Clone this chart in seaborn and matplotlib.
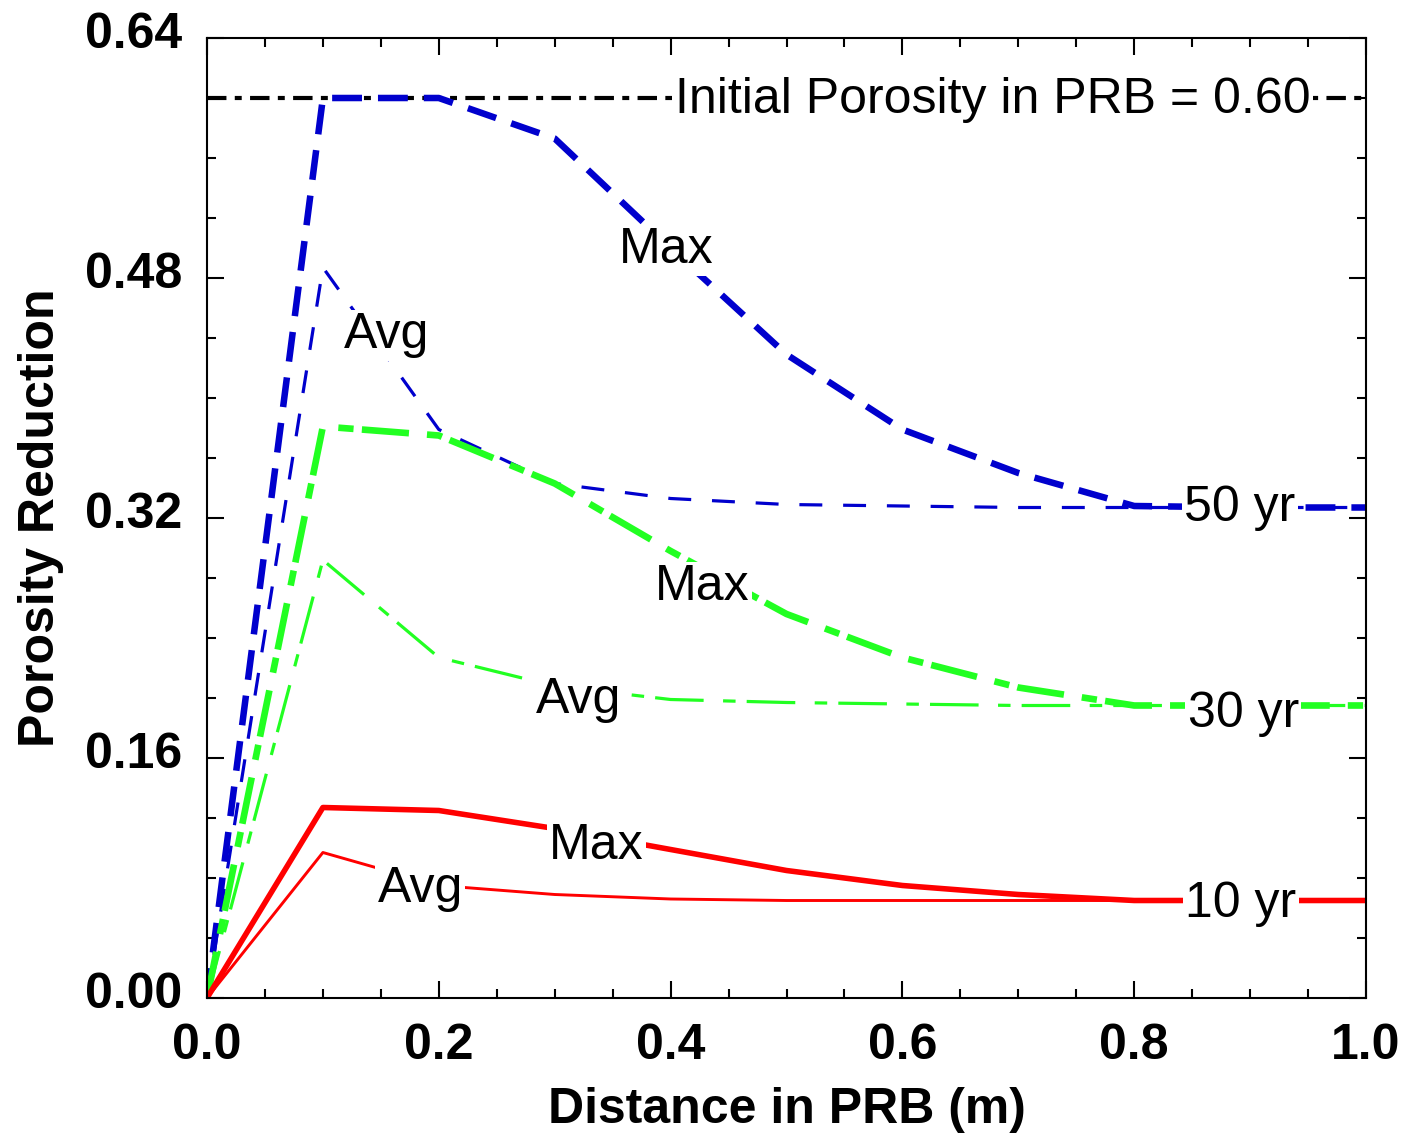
import numpy as np
import pandas as pd
import matplotlib
matplotlib.use("Agg")
import matplotlib.pyplot as plt
import matplotlib.transforms as mtransforms
import seaborn as sns
from matplotlib.ticker import MultipleLocator, FormatStrFormatter

# ---------------- data ----------------
distance = [0.0, 0.1, 0.2, 0.3, 0.4, 0.5, 0.6, 0.7, 0.8, 0.9, 1.0]

max_50yr = [0.0, 0.600, 0.600, 0.573, 0.500, 0.429, 0.379, 0.350, 0.328, 0.327, 0.327]
avg_50yr = [0.0, 0.487, 0.379, 0.343, 0.333, 0.329, 0.328, 0.327, 0.327, 0.327, 0.327]

max_30yr = [0.0, 0.381, 0.375, 0.343, 0.298, 0.256, 0.227, 0.207, 0.195, 0.195, 0.195]
avg_30yr = [0.0, 0.292, 0.227, 0.208, 0.199, 0.197, 0.196, 0.195, 0.195, 0.195, 0.195]

max_10yr = [0.0, 0.127, 0.125, 0.113, 0.099, 0.085, 0.075, 0.069, 0.065, 0.065, 0.065]
avg_10yr = [0.0, 0.097, 0.075, 0.069, 0.066, 0.065, 0.065, 0.065, 0.065, 0.065, 0.065]

initial_porosity = 0.60

x_ticks = [0.0, 0.2, 0.4, 0.6, 0.8, 1.0]
y_ticks = [0.00, 0.16, 0.32, 0.48, 0.64]

# ---------------- style ----------------
sns.set_theme(style="ticks")
plt.rcParams["font.family"] = ["Liberation Sans", "DejaVu Sans"]
plt.rcParams["lines.scale_dashes"] = False
plt.rcParams["text.color"] = "black"
plt.rcParams["axes.labelcolor"] = "black"
plt.rcParams["xtick.color"] = "black"
plt.rcParams["ytick.color"] = "black"
plt.rcParams["axes.edgecolor"] = "black"

BLUE = "#0000CD"
GREEN = "#22FF22"
RED = "#FF0000"

fig = plt.figure(figsize=(14.08, 11.34), dpi=100)
ax = fig.add_axes([207 / 1408, 1 - 998 / 1134, (1366 - 207) / 1408, (998 - 38) / 1134])

def draw(y, color, lw, ls):
    sns.lineplot(x=distance, y=y, ax=ax, color=color, linewidth=lw,
                 linestyle=ls, errorbar=None, sort=False, legend=False)

# initial porosity reference line
ax.axhline(initial_porosity, color="black", linewidth=3.0,
           linestyle=(0, (14, 6, 5, 6)), zorder=1.5)

draw(max_50yr, BLUE, 4.7, (0, (21.5, 11.5)))
draw(avg_50yr, BLUE, 2.3, (0, (16.5, 15)))
draw(max_30yr, GREEN, 4.8, (0, (34, 13, 11, 6)))
draw(avg_30yr, GREEN, 2.3, (0, (35, 14, 9, 8)))
draw(max_10yr, RED, 4.0, "-")
draw(avg_10yr, RED, 2.1, "-")

box = dict(boxstyle="square,pad=0.05", fc="white", ec="none")
tkw = dict(fontsize=36, ha="center", va="baseline", bbox=box, zorder=5, color="black")

ax.text(0.678, 0.590, "Initial Porosity in PRB = 0.60", **tkw)
ax.text(0.396, 0.490, "Max", **tkw)
ax.text(0.155, 0.433, "Avg", **tkw)
ax.text(0.891, 0.318, "50 yr", **tkw)
ax.text(0.427, 0.265, "Max", **tkw)
ax.text(0.3206, 0.190, "Avg", **tkw)
ax.text(0.894, 0.1807, "30 yr", **tkw)
ax.text(0.336, 0.0927, "Max", **tkw)
ax.text(0.184, 0.064, "Avg", **tkw)
ax.text(0.892, 0.054, "10 yr", **tkw)

# ---------------- axes ----------------
ax.set_xlim(0, 1.0)
ax.set_ylim(0, 0.64)
ax.set_xticks(x_ticks)
ax.set_yticks(y_ticks)
ax.xaxis.set_minor_locator(MultipleLocator(0.05))
ax.yaxis.set_minor_locator(MultipleLocator(0.04))
ax.xaxis.set_major_formatter(FormatStrFormatter("%.1f"))
ax.yaxis.set_major_formatter(FormatStrFormatter("%.2f"))

ax.tick_params(which="both", direction="in", top=True, right=True,
               width=1.5, color="black", labelcolor="black")
ax.tick_params(which="major", length=12.5, labelsize=36, pad=18)
ax.tick_params(which="minor", length=6.5)
for lab in ax.get_xticklabels() + ax.get_yticklabels():
    lab.set_fontweight("bold")

# y tick labels sit slightly above their ticks in the reference
shift = mtransforms.ScaledTranslation(0, 8 / 100, fig.dpi_scale_trans)
for tick in ax.yaxis.get_major_ticks():
    tick.label1.set_transform(tick.label1.get_transform() + shift)

for sp in ax.spines.values():
    sp.set_visible(True)
    sp.set_linewidth(1.5)
    sp.set_color("black")

ax.set_xlabel("Distance in PRB (m)", fontsize=36, fontweight="bold", labelpad=13)
ax.set_ylabel("Porosity Reduction", fontsize=36, fontweight="bold", labelpad=15)

fig.savefig("out.png", dpi=100, facecolor="white")
